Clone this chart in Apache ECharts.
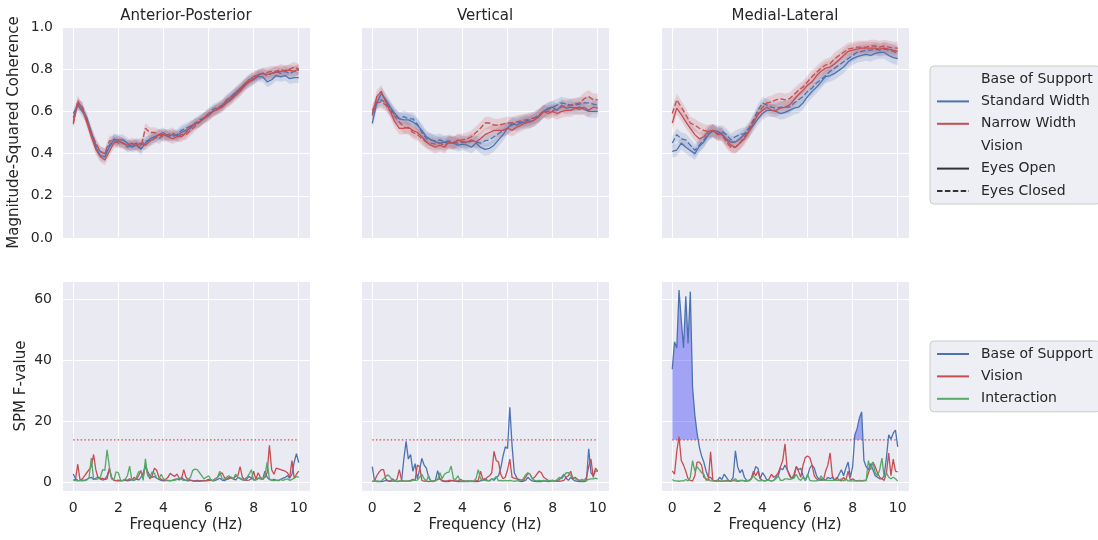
<!DOCTYPE html>
<html><head><meta charset="utf-8">
<script src="https://cdn.jsdelivr.net/npm/echarts@6/dist/echarts.min.js"></script>
<style>html,body{margin:0;padding:0;background:#fff}#c{width:1098px;height:540px}</style>
</head><body><div id="c"></div>
<script>
// ---------- categories / labels ----------
const panelTitles = ['Anterior-Posterior', 'Vertical', 'Medial-Lateral'];
const topLegendNames = ['Base of Support', 'Standard Width', 'Narrow Width', 'Vision', 'Eyes Open', 'Eyes Closed'];
const bottomLegendNames = ['Base of Support', 'Vision', 'Interaction'];
// sampling grids (Hz)
const freqTop = Array.from({length: 51}, (_, i) => +(i * 0.2).toFixed(1));
const freqBottom = Array.from({length: 101}, (_, i) => +(i * 0.1).toFixed(1));

// ---------- top row: magnitude-squared coherence ----------
const apSWOpen   = [0.59,0.63,0.60,0.57,0.50,0.43,0.39,0.385,0.43,0.465,0.465,0.465,0.45,0.43,0.44,0.42,0.45,0.47,0.48,0.49,0.50,0.48,0.49,0.485,0.50,0.51,0.52,0.545,0.55,0.57,0.58,0.60,0.61,0.625,0.645,0.66,0.685,0.70,0.725,0.74,0.75,0.765,0.765,0.74,0.75,0.77,0.765,0.77,0.755,0.76,0.76];
const apSWClosed = [0.57,0.63,0.62,0.56,0.50,0.44,0.41,0.40,0.44,0.47,0.46,0.45,0.43,0.44,0.45,0.44,0.46,0.46,0.48,0.47,0.49,0.49,0.48,0.49,0.51,0.52,0.53,0.54,0.56,0.57,0.59,0.61,0.62,0.63,0.655,0.67,0.69,0.71,0.73,0.75,0.76,0.775,0.78,0.77,0.78,0.79,0.78,0.79,0.78,0.79,0.795];
const apNWOpen   = [0.55,0.64,0.62,0.55,0.48,0.42,0.385,0.37,0.41,0.45,0.46,0.45,0.44,0.44,0.44,0.45,0.44,0.46,0.47,0.49,0.49,0.48,0.47,0.48,0.48,0.50,0.53,0.54,0.55,0.565,0.58,0.60,0.61,0.62,0.64,0.655,0.675,0.695,0.72,0.74,0.755,0.77,0.78,0.775,0.78,0.785,0.79,0.795,0.795,0.79,0.80];
const apNWClosed = [0.54,0.65,0.61,0.56,0.50,0.45,0.41,0.40,0.46,0.46,0.45,0.45,0.44,0.45,0.44,0.43,0.52,0.50,0.50,0.49,0.48,0.49,0.50,0.48,0.49,0.49,0.51,0.53,0.55,0.57,0.59,0.60,0.615,0.63,0.65,0.67,0.69,0.71,0.73,0.75,0.765,0.775,0.78,0.785,0.79,0.79,0.80,0.79,0.80,0.81,0.80];

const vSWOpen   = [0.543,0.64,0.685,0.655,0.62,0.59,0.565,0.56,0.56,0.55,0.535,0.51,0.48,0.465,0.455,0.45,0.455,0.45,0.45,0.44,0.445,0.44,0.43,0.45,0.43,0.42,0.425,0.44,0.465,0.49,0.52,0.545,0.535,0.545,0.55,0.55,0.56,0.575,0.60,0.615,0.62,0.605,0.63,0.615,0.62,0.615,0.62,0.61,0.60,0.60,0.60];
const vSWClosed = [0.59,0.645,0.655,0.64,0.615,0.58,0.565,0.575,0.565,0.565,0.54,0.50,0.47,0.465,0.46,0.465,0.455,0.46,0.455,0.45,0.455,0.45,0.46,0.455,0.45,0.46,0.465,0.48,0.495,0.51,0.52,0.535,0.545,0.55,0.555,0.56,0.57,0.585,0.60,0.61,0.62,0.63,0.64,0.635,0.63,0.63,0.635,0.64,0.64,0.635,0.63];
const vNWOpen   = [0.58,0.67,0.695,0.645,0.60,0.55,0.52,0.52,0.525,0.51,0.50,0.48,0.455,0.44,0.43,0.44,0.43,0.455,0.45,0.465,0.455,0.455,0.465,0.455,0.47,0.49,0.50,0.51,0.51,0.51,0.52,0.51,0.525,0.535,0.545,0.55,0.56,0.58,0.60,0.59,0.60,0.59,0.60,0.605,0.605,0.615,0.61,0.62,0.605,0.62,0.615];
const vNWClosed = [0.605,0.64,0.645,0.63,0.605,0.575,0.55,0.525,0.52,0.50,0.49,0.47,0.455,0.45,0.445,0.45,0.44,0.455,0.45,0.46,0.465,0.47,0.48,0.50,0.52,0.545,0.545,0.535,0.535,0.54,0.545,0.545,0.55,0.555,0.56,0.565,0.57,0.58,0.60,0.60,0.605,0.61,0.62,0.625,0.63,0.635,0.64,0.66,0.67,0.655,0.655];

const mlSWOpen   = [0.41,0.417,0.45,0.43,0.415,0.40,0.435,0.455,0.49,0.51,0.505,0.495,0.47,0.455,0.455,0.47,0.49,0.505,0.535,0.565,0.59,0.605,0.605,0.60,0.59,0.595,0.605,0.615,0.62,0.64,0.67,0.695,0.715,0.74,0.765,0.77,0.78,0.795,0.81,0.835,0.85,0.86,0.865,0.87,0.865,0.875,0.88,0.88,0.865,0.855,0.85];
const mlSWClosed = [0.45,0.49,0.47,0.465,0.44,0.415,0.44,0.465,0.495,0.505,0.495,0.505,0.49,0.465,0.48,0.49,0.495,0.52,0.56,0.605,0.64,0.63,0.62,0.615,0.62,0.62,0.62,0.64,0.655,0.67,0.695,0.71,0.735,0.75,0.77,0.79,0.805,0.82,0.835,0.85,0.865,0.88,0.885,0.89,0.89,0.895,0.89,0.895,0.89,0.885,0.875];
const mlNWOpen   = [0.545,0.615,0.585,0.55,0.52,0.49,0.47,0.48,0.505,0.51,0.495,0.49,0.465,0.44,0.43,0.45,0.47,0.505,0.545,0.585,0.605,0.62,0.605,0.605,0.615,0.62,0.63,0.655,0.68,0.70,0.725,0.74,0.77,0.79,0.805,0.81,0.825,0.845,0.865,0.885,0.89,0.895,0.90,0.90,0.90,0.90,0.895,0.90,0.895,0.89,0.885];
const mlNWClosed = [0.59,0.655,0.62,0.585,0.545,0.535,0.52,0.51,0.505,0.51,0.49,0.49,0.455,0.43,0.43,0.45,0.48,0.51,0.55,0.59,0.62,0.64,0.645,0.655,0.66,0.655,0.66,0.68,0.70,0.715,0.74,0.765,0.785,0.805,0.82,0.825,0.85,0.865,0.88,0.895,0.90,0.905,0.905,0.905,0.91,0.91,0.905,0.91,0.905,0.90,0.90];

// half-width of the confidence band per panel (coherence units)
const bandHalfWidths = [0.025, 0.03, 0.03];

// ---------- bottom row: SPM F-values ----------
const apBOS = [2.6,1.0,0.5,0.4,0.6,0.5,0.8,1.2,1.5,0.8, 1.2,1.6,1.0,0.6,0.8,2.0,4.0,1.5,0.6,0.4, 0.3,0.5,0.4,0.6,0.3,0.5,0.8,0.5,1.0,0.6, 1.5,3.0,5.2,3.5,2.0,1.5,1.8,1.2,0.8,0.5, 0.3,0.5,0.4,0.3,0.5,0.8,1.0,0.6,1.5,0.8, 0.5,0.3,0.6,0.4,0.3,0.5,0.3,0.4,0.3,0.5, 0.8,0.6,0.3,0.5,0.8,1.2,0.6,0.4,0.8,1.0, 1.5,1.0,0.6,1.5,1.2,0.8,0.5,1.0,1.8,1.2, 0.8,0.6,1.2,1.0,0.8,3.5,1.5,0.8,0.5,0.8, 0.6,0.4,0.8,1.2,1.5,2.0,1.2,2.5,6.5,9.3, 6.3];
const apVision = [0.6,0.8,5.8,0.6,1.0,2.0,3.0,4.0,5.0,9.0, 4.0,1.2,1.0,1.2,0.8,1.0,4.6,1.2,0.5,0.4, 0.6,0.3,0.5,0.8,0.5,1.0,0.6,1.5,0.8,2.0, 3.7,1.5,5.5,2.5,1.0,2.0,4.5,3.8,1.5,0.8, 0.5,0.8,1.5,2.8,2.2,1.8,2.6,1.2,1.0,4.0, 1.5,0.8,0.5,0.3,0.2,0.3,0.2,0.3,0.5,0.3, 0.4,0.6,0.5,1.0,1.5,2.5,3.0,1.5,0.8,1.5, 1.2,1.0,1.8,2.0,5.0,1.5,0.8,0.5,0.6,1.0, 3.5,0.8,3.0,1.5,0.8,1.5,3.0,12.0,4.0,2.5, 4.5,4.3,4.0,3.8,3.5,3.0,1.5,7.0,1.2,2.5, 3.5];
const apInter = [0.5,0.4,0.3,0.5,0.3,0.4,0.6,1.5,7.8,1.0, 0.8,1.0,1.5,4.0,3.8,10.5,5.0,1.0,0.6,3.3, 3.0,0.5,0.4,0.8,2.0,5.2,0.6,0.5,1.5,3.3, 3.5,0.5,7.6,2.0,1.5,3.3,2.8,1.2,1.0,2.5, 1.0,0.6,0.5,0.4,0.6,0.5,0.8,1.2,0.8,0.5, 0.6,0.8,1.5,3.8,4.2,4.0,3.0,2.0,1.0,1.5, 2.0,0.8,0.3,1.0,1.5,3.5,1.0,0.8,1.5,2.0, 1.5,1.0,2.5,1.5,1.0,0.6,0.8,1.5,2.5,4.0, 0.5,0.8,1.0,1.5,0.8,2.0,6.5,1.0,0.5,0.4, 0.5,0.6,0.8,0.5,0.8,1.0,0.5,0.8,1.2,1.8, 1.5];

const vBOS = [5.0,0.3,0.1,0.1,0.1,0.2,0.5,0.3,0.2,1.0, 0.3,0.1,0.2,0.3,7.5,13.3,7.5,9.0,3.5,6.0, 1.0,4.0,7.7,5.5,4.5,1.5,0.2,0.1,0.5,3.7, 1.0,0.3,0.1,0.2,0.1,0.3,0.5,0.2,0.1,0.2, 0.1,0.1,0.2,0.1,0.3,0.1,0.2,0.1,0.3,0.5, 1.0,0.5,0.3,1.0,0.5,1.5,2.0,4.5,8.5,11.5, 11.0,24.5,12.0,3.0,1.5,0.3,0.1,0.2,0.5,1.5, 0.8,0.3,0.2,0.1,0.2,0.1,0.3,0.2,0.1,0.2, 0.5,0.3,0.2,0.8,1.5,2.5,1.2,0.5,1.5,0.8, 0.3,0.2,0.1,0.2,0.1,0.3,10.9,3.0,2.0,3.5, 3.5];
const vVision = [0.1,0.3,2.0,3.2,4.0,4.0,1.0,0.3,0.2,0.3, 0.2,1.0,4.0,0.5,0.3,0.2,0.3,0.5,0.8,0.5, 5.5,5.0,0.5,0.2,0.3,0.1,0.2,0.3,0.5,0.8, 1.0,0.5,0.3,0.2,0.5,0.5,0.3,0.2,0.3,0.8, 0.5,0.3,0.2,0.3,0.1,0.2,0.3,0.5,3.5,1.0, 0.8,1.5,2.0,3.0,10.0,7.0,6.5,2.5,1.0,1.5, 4.0,7.5,1.5,1.2,1.0,0.8,0.6,0.5,1.5,2.8, 2.5,1.0,1.5,2.5,3.5,3.0,1.5,1.0,0.5,0.3, 0.3,0.2,0.3,0.2,0.3,0.5,1.5,2.0,3.5,1.0, 1.5,0.8,0.3,0.2,0.3,1.5,5.0,7.5,1.5,4.5, 3.5];
const vInter = [0.3,0.2,0.3,0.2,0.3,1.0,1.8,2.3,1.5,0.5, 0.3,0.2,0.3,0.2,0.3,0.2,0.3,0.2,0.5,0.5, 0.6,1.5,2.5,1.0,0.3,2.0,0.3,0.2,0.3,0.8, 3.0,1.0,2.5,3.0,3.2,5.2,1.0,0.8,2.0,0.3, 0.2,0.3,0.2,0.3,0.2,0.3,1.0,4.0,1.0,0.6, 0.5,0.3,0.5,0.8,1.0,1.8,0.3,0.5,0.3,0.5, 0.3,0.5,0.3,0.2,0.3,0.3,0.5,1.0,2.3,3.0, 2.5,1.0,0.5,0.3,0.5,0.3,0.5,0.3,0.3,0.5, 0.5,0.3,0.8,1.5,1.0,2.0,3.0,3.0,2.0,1.5, 1.0,0.8,0.5,0.8,0.5,0.5,0.8,1.0,1.0,1.2, 1.0];

const mlBOS = [37,46,44,63,53,44,61,45.5,62.5,31, 22,16,11.5,8.5,6.5,3.5,1.5,1.5,0.5,0.3, 0.3,1.5,0.8,2.5,1.5,0.5,0.3,1.5,10.2,5.0, 3.0,4.0,1.5,0.5,0.3,1.0,2.5,5.0,4.5,1.0, 3.0,2.0,0.5,0.5,0.3,0.5,1.5,2.0,4.5,4.0, 5.5,4.0,2.5,1.0,1.5,5.0,4.0,4.5,2.0,0.5, 2.0,4.5,5.5,4.5,2.0,1.0,0.5,1.0,0.5,1.5, 1.0,1.5,0.5,1.0,2.5,4.0,2.0,4.5,6.5,1.5, 5.0,15.5,17.5,21.0,23.0,7.0,5.0,4.0,6.0,4.0, 2.0,1.5,1.0,1.0,2.0,8.0,15.5,14.0,16.0,17.0, 11.5];
const mlVision = [3.6,2.5,10.0,14.9,7.0,5.5,3.5,1.0,0.5,0.3, 2.0,6.5,6.5,5.5,1.5,1.0,0.5,9.9,0.5,0.3, 0.5,0.3,0.2,0.3,0.5,0.3,0.2,0.5,0.3,0.2, 0.3,0.5,0.3,0.2,0.5,1.0,3.5,2.0,3.5,1.0, 0.5,0.3,0.5,1.0,2.5,1.5,2.0,3.0,5.0,7.0, 12.5,4.0,2.0,1.0,2.5,5.0,3.5,1.5,5.5,8.0, 8.5,8.0,5.5,2.0,1.0,0.5,1.0,0.5,3.5,5.5, 9.5,2.0,0.5,1.5,0.5,0.3,1.5,0.5,3.5,0.5, 1.0,0.5,0.3,0.5,0.3,0.5,0.5,3.0,5.0,6.5, 5.0,3.0,1.5,1.0,0.5,3.0,9.5,2.0,7.5,3.5, 3.3];
const mlInter = [0.8,0.3,0.3,0.2,0.3,0.3,0.8,0.3,1.5,7.0, 3.5,5.0,4.0,3.0,2.5,0.5,1.0,0.3,0.3,0.2, 0.3,0.2,0.3,0.2,0.3,0.2,0.3,0.5,1.0,0.3, 0.5,0.5,0.3,0.5,0.5,0.8,2.0,1.0,0.5,0.3, 0.5,0.3,0.5,0.5,0.3,0.5,1.0,2.0,0.5,0.5, 1.0,1.0,0.8,1.0,1.2,2.5,1.0,0.5,1.5,0.5, 2.5,0.5,0.3,0.3,0.3,0.5,2.0,0.5,0.5,0.5, 0.5,0.5,0.5,0.5,0.5,1.0,0.3,1.0,0.3,0.3, 0.3,0.3,0.3,0.3,0.3,0.3,0.5,7.0,4.0,6.5, 3.0,2.0,4.0,7.8,1.5,3.0,1.5,1.0,1.5,1.0, 0.3];

// critical F thresholds per panel and the suprathreshold windows shaded in ML
const fThresholds = [13.8, 13.8, 13.8];
const mlClusterWindows = [[0.0, 1.3], [7.9, 8.6]];

// ---------- styling ----------
const FONT = '"DejaVu Sans", sans-serif';
const TEXT = '#262626';
const BG = '#EAEAF2';
const BLUE = '#4C72B0', RED = '#C44E52', GREEN = '#55A868', DARK = '#333333';
const DASH = [5.5, 2.4];
const GRID_LEFT = [62, 361, 661];
const GRID_W = 248;

function rgba(hex, a) {
  const n = parseInt(hex.slice(1), 16);
  return `rgba(${(n >> 16) & 255},${(n >> 8) & 255},${n & 255},${a})`;
}

const topData = [
  [apSWOpen, apSWClosed, apNWOpen, apNWClosed],
  [vSWOpen, vSWClosed, vNWOpen, vNWClosed],
  [mlSWOpen, mlSWClosed, mlNWOpen, mlNWClosed]
];
const topStyles = [
  {color: BLUE, dash: false, label: 'Standard Width / Eyes Open'},
  {color: BLUE, dash: true, label: 'Standard Width / Eyes Closed'},
  {color: RED, dash: false, label: 'Narrow Width / Eyes Open'},
  {color: RED, dash: true, label: 'Narrow Width / Eyes Closed'}
];
const bottomData = [
  [apBOS, apVision, apInter],
  [vBOS, vVision, vInter],
  [mlBOS, mlVision, mlInter]
];
const bottomColors = [BLUE, RED, GREEN];

const grids = [], xAxes = [], yAxes = [], series = [];

for (let r = 0; r < 2; r++) {
  for (let p = 0; p < 3; p++) {
    const gi = r * 3 + p;
    grids.push({
      left: GRID_LEFT[p], top: r ? 281 : 27, width: GRID_W, height: r ? 210 : 211,
      show: true, backgroundColor: BG, borderWidth: 0, containLabel: false, outerBoundsMode: 'none'
    });
    xAxes.push({
      gridIndex: gi, type: 'value', min: -0.5, max: 10.5, splitNumber: 5,
      axisLine: {show: false}, axisTick: {show: false},
      splitLine: {show: true, lineStyle: {color: '#ffffff', width: 1}},
      axisLabel: {show: r === 1, color: TEXT, fontSize: 14, fontFamily: FONT, margin: 10,
        showMinLabel: false, showMaxLabel: false},
      name: r === 1 ? 'Frequency (Hz)' : '', nameLocation: 'middle', nameGap: 27,
      nameTextStyle: {color: TEXT, fontSize: 15, fontFamily: FONT}
    });
    const yBase = {
      gridIndex: gi, type: 'value',
      axisLine: {show: false}, axisTick: {show: false},
      splitLine: {show: true, lineStyle: {color: '#ffffff', width: 1}},
      nameLocation: 'middle', nameRotate: 90,
      nameTextStyle: {color: TEXT, fontSize: 15, fontFamily: FONT}
    };
    if (r === 0) {
      yAxes.push(Object.assign(yBase, {
        min: 0, max: 1, interval: 0.2,
        axisLabel: {show: p === 0, color: TEXT, fontSize: 14, fontFamily: FONT, margin: 9,
          formatter: v => v.toFixed(1)},
        name: p === 0 ? 'Magnitude-Squared Coherence' : '', nameGap: 40
      }));
    } else {
      yAxes.push(Object.assign(yBase, {
        min: -3, max: 66, splitNumber: 3,
        axisLabel: {show: p === 0, color: TEXT, fontSize: 14, fontFamily: FONT, margin: 10,
          showMinLabel: false, showMaxLabel: false},
        name: p === 0 ? 'SPM F-value' : '', nameGap: 33
      }));
    }
  }
}

// top row: confidence bands (custom polygons through the axis scales) + mean lines
for (let p = 0; p < 3; p++) {
  const hw = bandHalfWidths[p];
  topData[p].forEach((vals, k) => {
    const st = topStyles[k];
    const bandData = freqTop.map((f, i) => [f, vals[i] - hw, vals[i] + hw]);
    series.push({
      type: 'custom', name: 'band' + p + '_' + k, xAxisIndex: p, yAxisIndex: p, silent: true, z: 1,
      encode: {x: 0, y: [1, 2]},
      data: bandData,
      renderItem: (params, api) => {
        if (params.dataIndex !== 0) return null;
        const pts = [];
        for (let i = 0; i < bandData.length; i++) pts.push(api.coord([bandData[i][0], bandData[i][2]]));
        for (let i = bandData.length - 1; i >= 0; i--) pts.push(api.coord([bandData[i][0], bandData[i][1]]));
        return {type: 'polygon', shape: {points: pts}, style: {fill: rgba(st.color, 0.18)}};
      }
    });
  });
  topData[p].forEach((vals, k) => {
    const st = topStyles[k];
    series.push({
      type: 'line', name: panelTitles[p] + ' ' + st.label, xAxisIndex: p, yAxisIndex: p, silent: true,
      symbol: 'none', z: 3,
      itemStyle: {color: st.color},
      lineStyle: {color: st.color, width: 1.3, type: st.dash ? DASH : 'solid'},
      data: freqTop.map((f, i) => [f, vals[i]])
    });
  });
}

// shaded suprathreshold clusters (ML)
function clusterPoints(freqs, vals, thr, win) {
  const pts = [];
  for (let i = 0; i < freqs.length; i++) {
    const f = freqs[i];
    if (f < win[0] - 1e-9 || f > win[1] + 1e-9) continue;
    const v = vals[i];
    if (pts.length) {
      const pv = vals[i - 1], pf = freqs[i - 1];
      if ((pv - thr) * (v - thr) < 0) {
        const t = (thr - pv) / (v - pv);
        pts.push([pf + t * (f - pf), thr]);
      }
    }
    pts.push([f, Math.max(v, thr)]);
  }
  return pts;
}
mlClusterWindows.forEach((win, c) => {
  series.push({
    type: 'line', name: 'cluster' + c, xAxisIndex: 5, yAxisIndex: 5, silent: true,
    symbol: 'none', z: 2, lineStyle: {width: 0, opacity: 0},
    areaStyle: {color: 'rgba(0,0,255,0.3)', origin: fThresholds[2], opacity: 1},
    data: clusterPoints(freqBottom, mlBOS, fThresholds[2], win)
  });
});

// bottom row: F curves + threshold
for (let p = 0; p < 3; p++) {
  const gi = 3 + p;
  bottomData[p].forEach((vals, k) => {
    series.push({
      type: 'line', name: bottomLegendNames[k], xAxisIndex: gi, yAxisIndex: gi, silent: true,
      symbol: 'none', z: 3,
      itemStyle: {color: bottomColors[k]},
      lineStyle: {color: bottomColors[k], width: 1.3},
      data: freqBottom.map((f, i) => [f, vals[i]])
    });
  });
  series.push({
    type: 'line', name: 'threshold' + p, xAxisIndex: gi, yAxisIndex: gi, silent: true,
    symbol: 'none', z: 4,
    lineStyle: {color: '#d2444c', width: 1.4, type: [1.4, 2.3]},
    data: [[freqBottom[0], fThresholds[p]], [freqBottom[freqBottom.length - 1], fThresholds[p]]]
  });
}

// legend proxy series (no data)
[
  {name: 'Standard Width', color: BLUE, dash: false},
  {name: 'Narrow Width', color: RED, dash: false},
  {name: 'Eyes Open', color: DARK, dash: false},
  {name: 'Eyes Closed', color: DARK, dash: true}
].forEach(d => series.push({
  type: 'line', name: d.name, xAxisIndex: 0, yAxisIndex: 0, data: [], symbol: 'none',
  itemStyle: {color: d.color}, lineStyle: {color: d.color, width: 1.5, type: d.dash ? DASH : 'solid'}
}));

const hiddenIcon = {icon: 'rect', itemStyle: {color: 'rgba(0,0,0,0)', borderWidth: 0, opacity: 0}, lineStyle: {width: 0, opacity: 0}};
const legendCommon = {
  orient: 'vertical', left: 930, itemWidth: 32, itemHeight: 14, itemGap: 8.4,
  padding: [6, 8, 6, 6], backgroundColor: 'rgba(234,234,242,0.8)', borderColor: '#cccccc',
  borderWidth: 1, borderRadius: 4, selectedMode: false,
  itemStyle: {opacity: 0},
  textStyle: {color: TEXT, fontSize: 14, fontFamily: FONT, padding: [0, 0, 0, 7]}
};

const option = {
  animation: false,
  backgroundColor: '#ffffff',
  textStyle: {fontFamily: FONT},
  grid: grids, xAxis: xAxes, yAxis: yAxes, series: series,
  legend: [
    Object.assign({}, legendCommon, {
      top: 66,
      data: topLegendNames.map(n => (n === 'Base of Support' || n === 'Vision')
        ? Object.assign({name: n}, hiddenIcon) : {name: n})
    }),
    Object.assign({}, legendCommon, {
      top: 341,
      data: bottomLegendNames.map(n => ({name: n}))
    })
  ],
  graphic: panelTitles.map((t, p) => ({
    type: 'text', x: GRID_LEFT[p] + GRID_W / 2, y: 16, silent: true,
    style: {text: t, fill: TEXT, font: '15px ' + FONT, align: 'center', verticalAlign: 'middle',
      textAlign: 'center', textVerticalAlign: 'middle'}
  }))
};

const chart = echarts.init(document.getElementById('c'), null, {renderer: 'canvas'});
chart.setOption(option);
</script>
</body></html>
